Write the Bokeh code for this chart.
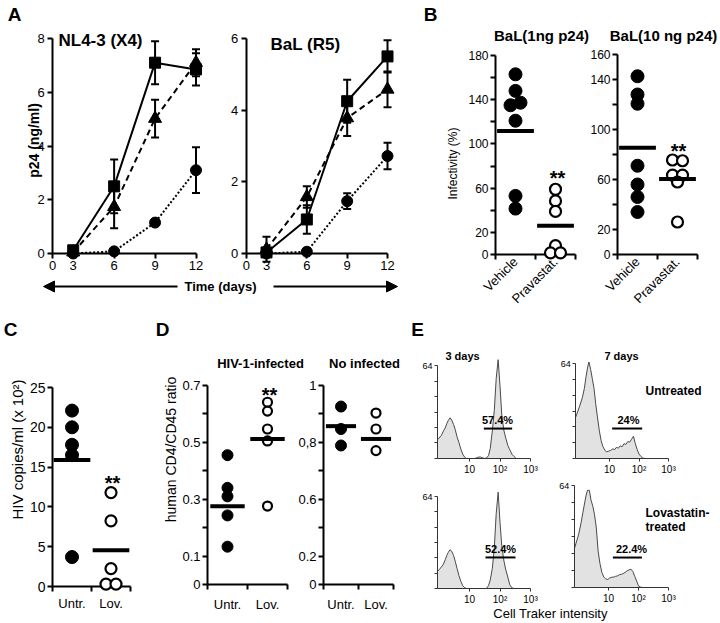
import math
from bokeh.plotting import figure
from bokeh.models import (Range1d, LinearAxis, LogAxis, LogScale, FixedTicker,
                          Label, Arrow, NormalHead)
from bokeh.embed import file_html
from bokeh.resources import INLINE

FONT = "Liberation Sans"

# ======================= DATA =======================
# ---- Panel A : p24 (ng/ml) vs time (days)
days = [3, 6, 9, 12]
a_xticks = [1.5, 3, 6, 9, 12]
a_xlabels = ["0", "3", "6", "9", "12"]
nl43_sq = [0.12, 2.5, 7.1, 6.85]
nl43_sq_err = [0.05, 1.0, 0.8, 0.6]
nl43_tri = [0.05, 1.74, 5.02, 7.1]
nl43_tri_err = [0.05, 0.8, 0.7, 0.5]
nl43_cir = [0.0, 0.08, 1.15, 3.1]
nl43_cir_err = [0.0, 0.0, 0.08, 0.85]
nl43_yticks = [0, 2, 4, 6, 8]
nl43_ylabels = ["0", "2", "4", "6", "8"]
bal_sq = [0.03, 0.95, 4.25, 5.5]
bal_sq_err = [0.05, 0.4, 0.6, 0.45]
bal_tri = [0.12, 1.58, 3.78, 4.58]
bal_tri_err = [0.35, 0.3, 0.5, 0.5]
bal_cir = [0.0, 0.05, 1.46, 2.72]
bal_cir_err = [0.0, 0.0, 0.22, 0.37]
bal_yticks = [0, 2, 4, 6]
bal_ylabels = ["0", "2", "4", "6"]

# ---- Panel B : infectivity (%)
b_groups = ["Vehicle", "Pravastat."]
b1_vehicle = [163, 148, 135, 137.3, 121, 53, 41.5]
b1_prava = [59, 48.5, 39, 8, 1.5, 1.5]
b1_means = [111.6, 26]
b1_yticks = [0, 20, 40, 60, 80, 100, 120, 140, 160, 180]
b1_ylabels = ["0", "20", "", "60", "", "100", "", "140", "", "180"]
b2_vehicle = [142.6, 128, 120.6, 71, 56, 46, 34]
b2_prava = [75.6, 75, 63.5, 63.5, 58, 26]
b2_means = [85.5, 60.5]
b2_yticks = [0, 20, 40, 60, 80, 100, 120, 140, 160]
b2_ylabels = ["0", "20", "", "60", "", "100", "", "140", "160"]

# ---- Panel C : HIV copies/ml (x 10^2)
cd_groups = ["Untr.", "Lov."]
c_untr = [22.1, 20.0, 17.8, 16.5, 3.7]
c_lov = [11.8, 8.25, 2.25, 0.3, 0.3]
c_means = [15.9, 4.55]
c_yticks = [0, 5, 10, 15, 20, 25]
c_ylabels = ["0", "5", "10", "15", "20", "25"]

# ---- Panel D : human CD4/CD45 ratio
d1_untr = [0.455, 0.34, 0.31, 0.243, 0.133]
d1_lov = [0.641, 0.61, 0.547, 0.505, 0.276]
d1_means = [0.275, 0.512]
d1_yticks = [0, 0.1, 0.2, 0.3, 0.4, 0.5, 0.6, 0.7]
d1_ylabels = ["0", "0.1", "", "0.3", "", "0.5", "", "0.7"]
d2_untr = [0.926, 0.847, 0.789]
d2_lov = [0.903, 0.847, 0.771]
d2_means = [0.857, 0.812]
d2_yticks = [0.3, 0.4, 0.5, 0.6, 0.7, 0.8, 0.9, 1.0]
d2_ylabels = ["0", "0.2", "", "0.6", "", "0,8", "", "1"]

# ---- Panel E : Cell Tracker histograms
e_int_left = [0.9, 1.0, 1.2, 1.4, 1.6, 1.8, 2.0, 2.3, 2.6, 3.0, 3.4, 3.9, 4.5, 5.2,
              6.0, 7.0, 8.0, 9.5, 11, 13, 15, 17, 20, 23, 27, 31, 36, 42, 48, 56,
              65, 75, 87, 100, 115, 135, 155, 180, 210, 245, 285, 330]
e_int_right = [0.72, 1.0, 1.2, 1.4, 1.6, 1.8, 2.0, 2.3, 2.6, 3.0, 3.4, 3.9, 4.5, 5.2,
               6.0, 7.0, 8.0, 9.5, 11, 13, 15, 17, 20, 23, 27, 31, 36, 42, 48, 56,
               65, 75, 87, 100, 115, 135, 155, 180, 210, 245, 285, 330]
e_3d_untr = [13, 14, 16, 19, 21, 24, 26, 28, 26.5, 23.5, 20, 15, 11, 6.5,
             3, 0.8, 0, 0, 0, 0, 0, 0.5, 1, 1, 0.5, 0, 0.3, 2, 7, 19,
             33, 55, 68, 50, 29, 19, 14, 9, 6, 3, 1.5, 0.3]
e_7d_untr = [28, 36, 41, 47, 55, 61, 65, 60, 54, 47, 37, 28, 19, 12,
             8, 5.5, 4.5, 5, 5.5, 6.5, 6, 7.5, 7, 8.5, 8, 10, 9.5, 11.5, 11, 13,
             15, 10, 6, 3, 1.5, 0.3, 0, 0, 0, 0, 0, 0]
e_3d_lov = [12, 13, 15, 17, 20, 23, 25, 27, 26, 23, 19, 14, 9, 5,
            2, 0.5, 0, 0, 0, 0, 0, 0, 0, 0, 0, 0, 0, 2, 6, 14,
            28, 52, 67, 46, 29, 19, 13, 8, 2.5, 0.5, 0, 0]
e_7d_lov = [24, 33, 40, 47, 53, 58, 61, 61, 55, 51, 46, 38, 23, 15,
            9.5, 6.5, 5.5, 5, 6, 6.5, 6.5, 7, 7.3, 8, 8.3, 8.8, 9.5, 10.5, 11, 11.5,
            10, 7, 4, 1, 0.3, 0, 0, 0, 0, 0, 0, 0]
e_gate_lo = [29.5, 12.3, 33.4, 14]
e_gate_hi = [250, 128, 322, 130]
e_gate_y = [20.6, 20.2, 21.6, 18.8]
e_gate_text = ["57.4%", "24%", "52.4%", "22.4%"]
e_yticks = [0, 10.67, 21.33, 32, 42.67, 53.33, 64]
e_ylabels = ["", "", "", "", "", "", "64"]
e_xticks = [10, 100, 1000]
e_xlabels = ["10", "10\u00b2", "10\u00b3"]

# ======================= LAYOUT =======================
W, H = 720, 623
PX0, PY0 = 0, 0
PX1, PY1 = PX0 + W, PY0 + H

p = figure(width=W, height=H, x_range=Range1d(PX0, PX1), y_range=Range1d(PY1, PY0),
           x_axis_location=None, y_axis_location=None, toolbar_location=None,
           output_backend="svg", min_border=0)
p.outline_line_color = None
p.grid.visible = False
p.background_fill_color = "white"
p.border_fill_color = "white"

# panel maps: (value1, page_px1, value2, page_px2)
MAPS = {
    "A1": dict(x=(3, 72.7, 12, 195.5), y=(0, 253, 8, 38)),
    "A2": dict(x=(3, 266, 12, 387), y=(0, 253, 6, 38)),
    "B1": dict(x=(0, 495, 2, 575), y=(0, 254, 180, 55)),
    "B2": dict(x=(0, 617, 2, 697), y=(0, 254, 160, 54)),
    "C": dict(x=(0, 52, 2, 130), y=(0, 586, 25, 387)),
    "D1": dict(x=(0, 207, 2, 287), y=(0, 584, 0.7, 385)),
    "D2": dict(x=(0, 323, 2, 393), y=(0.3, 584, 1.0, 385)),
    "E11": dict(x=(10, 469, 1000, 530), y=(0, 458, 64, 365), log=True),
    "E12": dict(x=(10, 609, 1000, 668), y=(0, 458, 64, 363), log=True),
    "E21": dict(x=(10, 469, 1000, 530), y=(0, 588, 64, 496), log=True),
    "E22": dict(x=(10, 608, 1000, 668), y=(0, 587, 64, 485), log=True),
}


def lin_at(v1, p1, v2, p2, q):
    return v1 + (q - p1) * (v2 - v1) / (p2 - p1)


xr, yr, xs_ = {}, {}, {}
for name, m in MAPS.items():
    x1, q1, x2, q2 = m["x"]
    if m.get("log"):
        l1, l2 = math.log10(x1), math.log10(x2)
        xr[name] = Range1d(10 ** lin_at(l1, q1, l2, q2, PX0), 10 ** lin_at(l1, q1, l2, q2, PX1))
        xs_[name] = LogScale()
    else:
        xr[name] = Range1d(lin_at(x1, q1, x2, q2, PX0), lin_at(x1, q1, x2, q2, PX1))
    yr[name] = Range1d(lin_at(*m["y"], PY1), lin_at(*m["y"], PY0))
p.extra_x_ranges = xr
p.extra_y_ranges = yr
p.extra_x_scales = xs_


def ppu(name):
    x1, q1, x2, q2 = MAPS[name]["x"]
    y1, r1, y2, r2 = MAPS[name]["y"]
    return abs((q2 - q1) / (x2 - x1)), abs((r2 - r1) / (y2 - y1))


def RN(name):
    return dict(x_range_name=name, y_range_name=name)


def style_axis(ax, size, lw=2, tick_out=5, standoff=3, color="black"):
    ax.axis_line_width = lw
    ax.axis_line_color = color
    ax.major_tick_line_width = lw
    ax.major_tick_line_color = color
    ax.major_tick_out = tick_out
    ax.major_tick_in = 0
    ax.minor_tick_line_color = None
    ax.major_label_text_font = FONT
    ax.major_label_text_font_size = f"{size}px"
    ax.major_label_text_color = "black"
    ax.major_label_standoff = standoff


def add_axis(name, side, loc, bounds, ticks, labels, size, axcls=LinearAxis, **kw):
    ax = axcls(fixed_location=loc, bounds=bounds,
               ticker=FixedTicker(ticks=ticks, minor_ticks=[]),
               major_label_overrides=dict(zip(ticks, labels)), **RN(name))
    style_axis(ax, size, **kw)
    p.add_layout(ax, side)
    return ax


def txt(x, y, s, size, bold=False, angle=0.0, align="center", baseline="middle"):
    p.add_layout(Label(x=x, y=y, text=s, text_font=FONT, text_font_size=f"{size}px",
                       text_font_style="bold" if bold else "normal", angle=angle,
                       text_align=align, text_baseline=baseline, text_color="black"))


def stars(x, y):
    txt(x, y + 11, "**", 20, bold=True, baseline="alphabetic")


# ======================= PANEL A =======================
def series(name, y, err, marker, size, dash):
    p.line(days, y, line_width=2, color="black", line_dash=dash, **RN(name))
    xe = [d for d, e in zip(days, err) if e > 0]
    lo = [v - e for v, e in zip(y, err) if e > 0]
    hi = [v + e for v, e in zip(y, err) if e > 0]
    p.segment(x0=xe, y0=lo, x1=xe, y1=hi, line_width=2, color="black", **RN(name))
    p.scatter(xe + xe, lo + hi, marker="dash", size=8, line_width=2, color="black", **RN(name))
    p.scatter(days, y, marker=marker, size=size, color="black", level="overlay", **RN(name))


for name, cir, cir_e, sq, sq_e, tri, tri_e, yt, yl, ytop in [
        ("A1", nl43_cir, nl43_cir_err, nl43_sq, nl43_sq_err, nl43_tri, nl43_tri_err, nl43_yticks, nl43_ylabels, 8),
        ("A2", bal_cir, bal_cir_err, bal_sq, bal_sq_err, bal_tri, bal_tri_err, bal_yticks, bal_ylabels, 6)]:
    series(name, cir, cir_e, "circle", 11, "2 2")
    series(name, sq, sq_e, "square", 11, "solid")
    series(name, tri, tri_e, "triangle", 13, "6 4")
    add_axis(name, "left", a_xticks[0], (0, ytop), yt, yl, 13, standoff=3)
    add_axis(name, "below", 0, (a_xticks[0], days[-1]), a_xticks, a_xlabels, 13, standoff=2)

txt(14, 14, "A", 19, bold=True)
txt(100, 40, "NL4-3 (X4)", 17, bold=True)
txt(305, 44, "BaL (R5)", 17, bold=True)
txt(33, 140, "p24 (ng/ml)", 14, bold=True, angle=math.pi / 2)
txt(220, 286, "Time (days)", 13, bold=True)
p.add_layout(Arrow(end=NormalHead(size=11, fill_color="black", line_color="black"),
                   x_start=177, y_start=286, x_end=43, y_end=286, line_width=2, line_color="black"))
p.add_layout(Arrow(end=NormalHead(size=11, fill_color="black", line_color="black"),
                   x_start=273, y_start=286, x_end=397, y_end=286, line_width=2, line_color="black"))


# ======================= DOT PANELS (B, C, D) =======================
def spread_x(center, vals, xpx, ypx, sep=10, thr=4):
    xs = [center] * len(vals)
    used = [False] * len(vals)
    for i in range(len(vals)):
        if used[i]:
            continue
        grp = [j for j in range(len(vals)) if not used[j] and abs(vals[j] - vals[i]) * ypx < thr]
        for k, j in enumerate(grp):
            xs[j] = center + (k - (len(grp) - 1) / 2) * sep / xpx
            used[j] = True
    return xs


def dot_panel(name, groups, gvals, means, yticks, ylabels, tick_size, cat_size,
              rot, cat_standoff, hw, dsize):
    xpx, ypx = ppu(name)
    for i, vals in enumerate(gvals):
        xs = spread_x(i + 0.5, vals, xpx, ypx)
        filled = (i == 0)
        p.scatter(xs, vals, marker="circle", size=dsize if filled else dsize - 2,
                  fill_color="black" if filled else "white", line_color="black",
                  line_width=1 if filled else 2.2, level="overlay", **RN(name))
    p.segment(x0=[i + 0.5 - hw for i in range(len(means))], y0=means,
              x1=[i + 0.5 + hw for i in range(len(means))], y1=means,
              line_width=4, color="black", line_cap="butt", level="overlay", **RN(name))
    y0 = yticks[0]
    add_axis(name, "left", 0, (y0, yticks[-1]), yticks, ylabels, tick_size, standoff=2)
    add_axis(name, "below", y0, (0, len(groups)), [0, 1, 2], ["", "", ""], tick_size)
    ax = add_axis(name, "below", y0, (0, len(groups)), [0.5, 1.5], groups, cat_size,
                  standoff=cat_standoff, tick_out=0)
    ax.axis_line_color = None
    ax.major_tick_line_color = None
    ax.major_label_orientation = rot


dot_panel("B1", b_groups, [b1_vehicle, b1_prava], b1_means, b1_yticks, b1_ylabels,
          12, 13, math.pi / 4, 5, 0.46, 13)
dot_panel("B2", b_groups, [b2_vehicle, b2_prava], b2_means, b2_yticks, b2_ylabels,
          12, 13, math.pi / 4, 5, 0.46, 13)
txt(430, 14, "B", 19, bold=True)
txt(541, 35, "BaL(1ng p24)", 15, bold=True)
txt(663, 35, "BaL(10 ng p24)", 15, bold=True)
txt(452, 163, "Infectivity (%)", 12, angle=math.pi / 2)
stars(557, 166)
stars(678, 139)

dot_panel("C", cd_groups, [c_untr, c_lov], c_means, c_yticks, c_ylabels,
          14, 13, "horizontal", 9, 0.47, 13)
txt(10, 329, "C", 19, bold=True)
txt(17, 449, "HIV copies/ml (x 10\u00b2)", 15, angle=math.pi / 2)
stars(112, 471)

dot_panel("D1", cd_groups, [d1_untr, d1_lov], d1_means, d1_yticks, d1_ylabels,
          13, 13, "horizontal", 12, 0.43, 11)
dot_panel("D2", cd_groups, [d2_untr, d2_lov], d2_means, d2_yticks, d2_ylabels,
          13, 13, "horizontal", 12, 0.43, 11)
txt(162, 329, "D", 19, bold=True)
txt(170, 449, "human CD4/CD45 ratio", 14, angle=math.pi / 2)
txt(260, 363, "HIV-1-infected", 13, bold=True)
txt(364, 363, "No infected", 13, bold=True)
stars(269, 383)

# ======================= PANEL E =======================
for k, (name, xs, counts, start) in enumerate([
        ("E11", e_int_left, e_3d_untr, e_int_left[0]),
        ("E12", e_int_right, e_7d_untr, e_int_right[0]),
        ("E21", e_int_left, e_3d_lov, e_int_left[0]),
        ("E22", e_int_right, e_7d_lov, e_int_right[0])]):
    p.varea(x=xs, y1=[0] * len(xs), y2=counts, fill_color="#e2e2e2", **RN(name))
    p.line(xs, counts, line_color="#4a4a4a", line_width=1, **RN(name))
    p.segment(x0=[e_gate_lo[k]], y0=[e_gate_y[k]], x1=[e_gate_hi[k]], y1=[e_gate_y[k]],
              line_width=2, color="black", **RN(name))
    add_axis(name, "left", start, (0, e_yticks[-1]), e_yticks, e_ylabels, 9,
             lw=1, tick_out=3, standoff=2, color="#333333")
    add_axis(name, "below", 0, (start, e_xticks[-1]), e_xticks, e_xlabels, 10,
             axcls=LogAxis, lw=1, tick_out=3, standoff=2, color="#333333")

txt(417, 329, "E", 19, bold=True)
txt(462, 355, "3 days", 11, bold=True)
txt(621, 355, "7 days", 11, bold=True)
txt(645, 390, "Untreated", 12, bold=True, align="left")
txt(645, 512, "Lovastatin-", 12, bold=True, align="left")
txt(645, 526, "treated", 12, bold=True, align="left")
for (tx, ty), s in zip([(497, 419), (628, 419), (500, 548), (631, 548)], e_gate_text):
    txt(tx, ty, s, 11, bold=True)
txt(550, 613, "Cell Traker intensity", 13)

open("out.html", "w").write(file_html(p, INLINE, "figure"))
